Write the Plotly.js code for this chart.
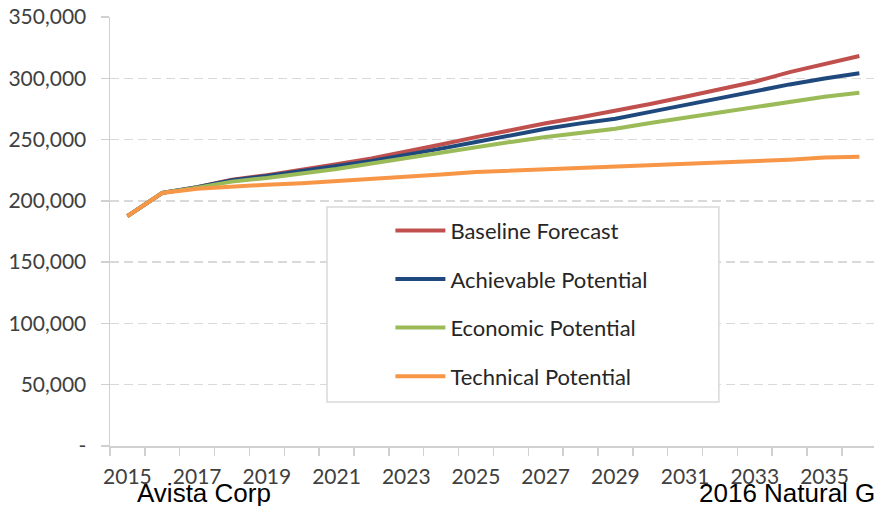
<!DOCTYPE html>
<html>
<head>
<meta charset="utf-8">
<script src="https://cdn.plot.ly/plotly-3.0.1.min.js"></script>
<style>html,body{margin:0;padding:0;background:#fff;}#chart{width:874px;height:506px;}</style>
</head>
<body>
<div id="chart"></div>
<script>
const years = [2015,2016,2017,2018,2019,2020,2021,2022,2023,2024,2025,2026,2027,2028,2029,2030,2031,2032,2033,2034,2035,2036];
const baseline   = [187500,206500,211200,217200,221000,225200,229800,234500,240000,246000,252000,258000,263300,268200,273300,279000,285000,291000,297200,305000,311700,318200];
const achievable = [187500,206500,211100,216900,220200,224000,228400,232600,237400,242600,248000,253600,258800,263200,267000,272600,278200,284000,289900,295000,299800,304100];
const economic   = [187500,206500,210800,215700,218700,222000,226000,230500,235100,239500,243900,248100,252100,255600,258800,263500,267800,272400,276800,281200,285000,288200];
const technical  = [187500,206500,209900,211900,213200,214400,216000,217800,219700,221600,223500,224600,226000,227200,228300,229200,230100,231000,232000,233600,235300,236000];
const seriesNames = ["Baseline Forecast","Achievable Potential","Economic Potential","Technical Potential"];
const seriesColors = ["#c0504d","#1f497d","#9bbb59","#f79646"];
const xTickVals = [2015,2017,2019,2021,2023,2025,2027,2029,2031,2033,2035];
const yTickVals = [0,50000,100000,150000,200000,250000,300000,350000];
const yTickText = ["-","50,000","100,000","150,000","200,000","250,000","300,000","350,000"];
const footerLeft = "Avista Corp";
const footerRight = "2016 Natural Gas IRP";

const allSeries = [baseline, achievable, economic, technical];
const traces = allSeries.map((vals, i) => ({
  x: years, y: vals, type: "scatter", mode: "lines",
  name: seriesNames[i], legendgroup: "g" + i,
  line: {color: seriesColors[i], width: 4}
}));

const tickFont = {family: "Lato, 'Open Sans', sans-serif", size: 21, color: "#404040"};
const layout = {
  width: 874, height: 506,
  margin: {l: 110, r: 0, t: 17, b: 60},
  paper_bgcolor: "#fff", plot_bgcolor: "#fff",
  showlegend: true,
  legend: {
    x: 0.367, xanchor: "left", y: 0.551, yanchor: "top",
    bgcolor: "rgba(0,0,0,0)", borderwidth: 0,
    font: {family: "Lato, 'Open Sans', sans-serif", size: 22, color: "#262626"},
    tracegroupgap: 17, itemwidth: 50, traceorder: "grouped"
  },
  xaxis: {
    range: [2014.5, 2036.42], showgrid: false, zeroline: false,
    showline: true, linecolor: "#d0d0d0", linewidth: 1.5,
    tickmode: "array", tickvals: xTickVals, ticks: "", ticklabelstandoff: 11,
    tickfont: tickFont,
    minor: {tickmode: "linear", tick0: 2014.5, dtick: 1, ticks: "outside", ticklen: 8, tickwidth: 1.5, tickcolor: "#d0d0d0", showgrid: false}
  },
  yaxis: {
    range: [0, 350000], zeroline: false,
    showline: true, linecolor: "#d0d0d0", linewidth: 1.5,
    showgrid: true, gridcolor: "#d9d9d9", gridwidth: 1.5, griddash: "9px,5px",
    tickmode: "array", tickvals: yTickVals, ticktext: yTickText,
    ticks: "outside", ticklen: 8, tickwidth: 1.5, tickcolor: "#d0d0d0",
    ticklabelstandoff: 10, tickfont: tickFont
  },
  shapes: [{
    type: "rect", xref: "paper", yref: "paper", layer: "above",
    x0: 0.284, x1: 0.797, y0: 0.1026, y1: 0.557,
    fillcolor: "#ffffff", line: {color: "#d9d9d9", width: 1.5}
  }],
  annotations: [
    {text: footerLeft, xref: "paper", yref: "paper", x: 0.033, y: -0.11, xanchor: "left", yanchor: "middle", showarrow: false,
     font: {family: "'Liberation Sans', Arial, sans-serif", size: 26, color: "#000"}},
    {text: footerRight, xref: "paper", yref: "paper", x: 0.768, y: -0.11, xanchor: "left", yanchor: "middle", showarrow: false,
     font: {family: "'Liberation Sans', Arial, sans-serif", size: 26, color: "#000"}}
  ]
};
Plotly.newPlot("chart", traces, layout, {displayModeBar: false, staticPlot: true});
</script>
</body>
</html>
